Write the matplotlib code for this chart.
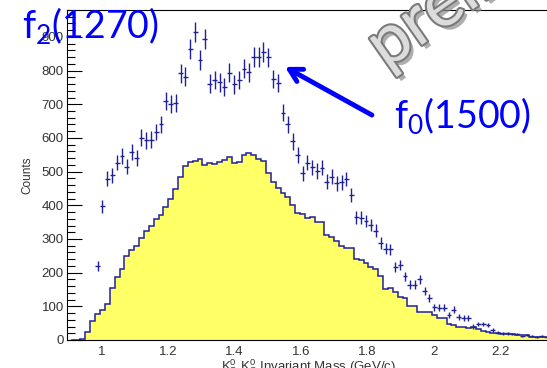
import numpy as np
import matplotlib
matplotlib.use("Agg")
import matplotlib.pyplot as plt
import matplotlib.patheffects as pe
from matplotlib.ticker import MultipleLocator

# Binning of the histogram
bin_start = 0.9067
bin_width = 0.0147
n_bins = 100

# Yellow reference histogram, counts per bin
hist_counts = [0, 0, 3, 23, 56, 76, 88, 108, 153, 188,
               210, 250, 266, 278, 303, 323, 340, 358, 370, 396,
               418, 448, 485, 518, 528, 533, 538, 520, 525, 522,
               530, 535, 542, 525, 528, 550, 556, 550, 537, 533,
               495, 468, 450, 438, 425, 400, 377, 374, 363, 365,
               350, 349, 312, 307, 294, 278, 273, 272, 240, 237,
               228, 217, 210, 190, 151, 155, 142, 129, 125, 102,
               102, 82, 82, 82, 75, 65, 65, 48, 45, 40,
               40, 35, 40, 32, 28, 25, 22, 20, 18, 18,
               18, 15, 15, 15, 10, 10, 10, 10, 8, 6]

# Data points (crosses), counts per bin, nan = not drawn
data_counts = [np.nan, np.nan, np.nan, np.nan, np.nan, 220, 397, 479, 489, 527,
               546, 515, 558, 541, 601, 593, 595, 618, 640, 710,
               700, 705, 792, 782, 865, 915, 831, 895, 761, 772,
               765, 752, 793, 759, 772, 806, 795, 840, 840, 855,
               839, 775, 763, 675, 640, 590, 550, 495, 527, 513,
               502, 512, 470, 485, 465, 468, 478, 431, 365, 363,
               353, 342, 325, 288, 271, 270, 218, 223, 189, 164,
               164, 181, 145, 125, 97, 96, 96, 75, 90, 68,
               65, 65, 40, 48, 48, 45, 30, 22, 20, 20,
               18, 18, 12, 15, 12, 10, 12, 9, 8, 7]

edges = bin_start + bin_width * np.arange(n_bins + 1)
centers = 0.5 * (edges[:-1] + edges[1:])
hist_counts = np.array(hist_counts, dtype=float)
data_counts = np.array(data_counts, dtype=float)

navy = '#20209a'
blue = '#0000ff'

fig = plt.figure(figsize=(5.47, 3.68), dpi=100)
W, H = 547.0, 368.0
ax = fig.add_axes([66.7 / W, 28 / H, 1.02 - 66.7 / W, 330 / H])

# filled histogram
ax.stairs(hist_counts, edges, fill=True, color='#ffff66', zorder=1)
ax.stairs(hist_counts, edges, color=navy, lw=1.1, zorder=2)

# data with errors
ax.errorbar(centers, data_counts, xerr=bin_width / 2, yerr=np.sqrt(data_counts),
            fmt='none', ecolor=navy, elinewidth=1.0, capsize=0, zorder=3)

ax.set_xlim(0.8946, 0.8946 + (1.02 * W - 66.7) / 332)
ax.set_ylim(0, 980)
ax.xaxis.set_major_locator(MultipleLocator(0.2))
ax.yaxis.set_major_locator(MultipleLocator(100))
ax.yaxis.set_minor_locator(MultipleLocator(20))
ax.tick_params(axis='y', which='major', direction='in', length=11, width=0.8,
               labelsize=9.5, labelcolor='#333333', pad=2)
ax.tick_params(axis='y', which='minor', direction='in', length=5.5, width=0.8)
ax.tick_params(axis='x', which='both', length=0, labelsize=9.5,
               labelcolor='#333333', pad=4)
ax.set_xticks([1, 1.2, 1.4, 1.6, 1.8, 2, 2.2])
ax.set_xticklabels(['1', '1.2', '1.4', '1.6', '1.8', '2', '2.2'])
for lab in ax.get_xticklabels() + ax.get_yticklabels():
    lab.set_family('Liberation Sans')
for s in ax.spines.values():
    s.set_linewidth(0.8)

fig.text(27 / W, 1 - 175 / H, 'Counts', rotation=90, ha='center', va='center',
         fontsize=8.5, family='Liberation Sans', color='#333333')
fig.text(309 / W, 1 - 357 / H,
         r'K$\mathregular{^0_S}$ K$\mathregular{^0_S}$ Invariant Mass (GeV/c)',
         ha='center', va='top', fontsize=9.5, family='Liberation Sans',
         color='#333333')

# annotations
fig.text(22 / W, 1 - 38 / H, r'f$\mathregular{_2}$(1270)', fontsize=27,
         family='Lato', color=blue, ha='left', va='baseline')
ax.text(1.881, 630, r'f$\mathregular{_0}$(1500)', fontsize=27, family='Lato',
        color=blue, ha='left', va='baseline', clip_on=False)
ax.annotate('', xy=(1.552, 811), xytext=(1.814, 668),
            arrowprops=dict(arrowstyle='->,head_length=0.9,head_width=0.5',
                            lw=3.5, color=blue, shrinkA=0, shrinkB=0))

# preliminary watermark
fig.text(386 / W, 1 - 70 / H, 'preliminary', fontsize=50, family='Lato',
         color='#dcdcdc', rotation=35, rotation_mode='anchor',
         ha='left', va='baseline',
         path_effects=[pe.SimplePatchShadow(offset=(3, -3), shadow_rgbFace='#8c8c8c', alpha=0.7),
                       pe.Stroke(linewidth=3, foreground='#7a7a7a'),
                       pe.Normal()])

fig.savefig('out.png', dpi=100)
